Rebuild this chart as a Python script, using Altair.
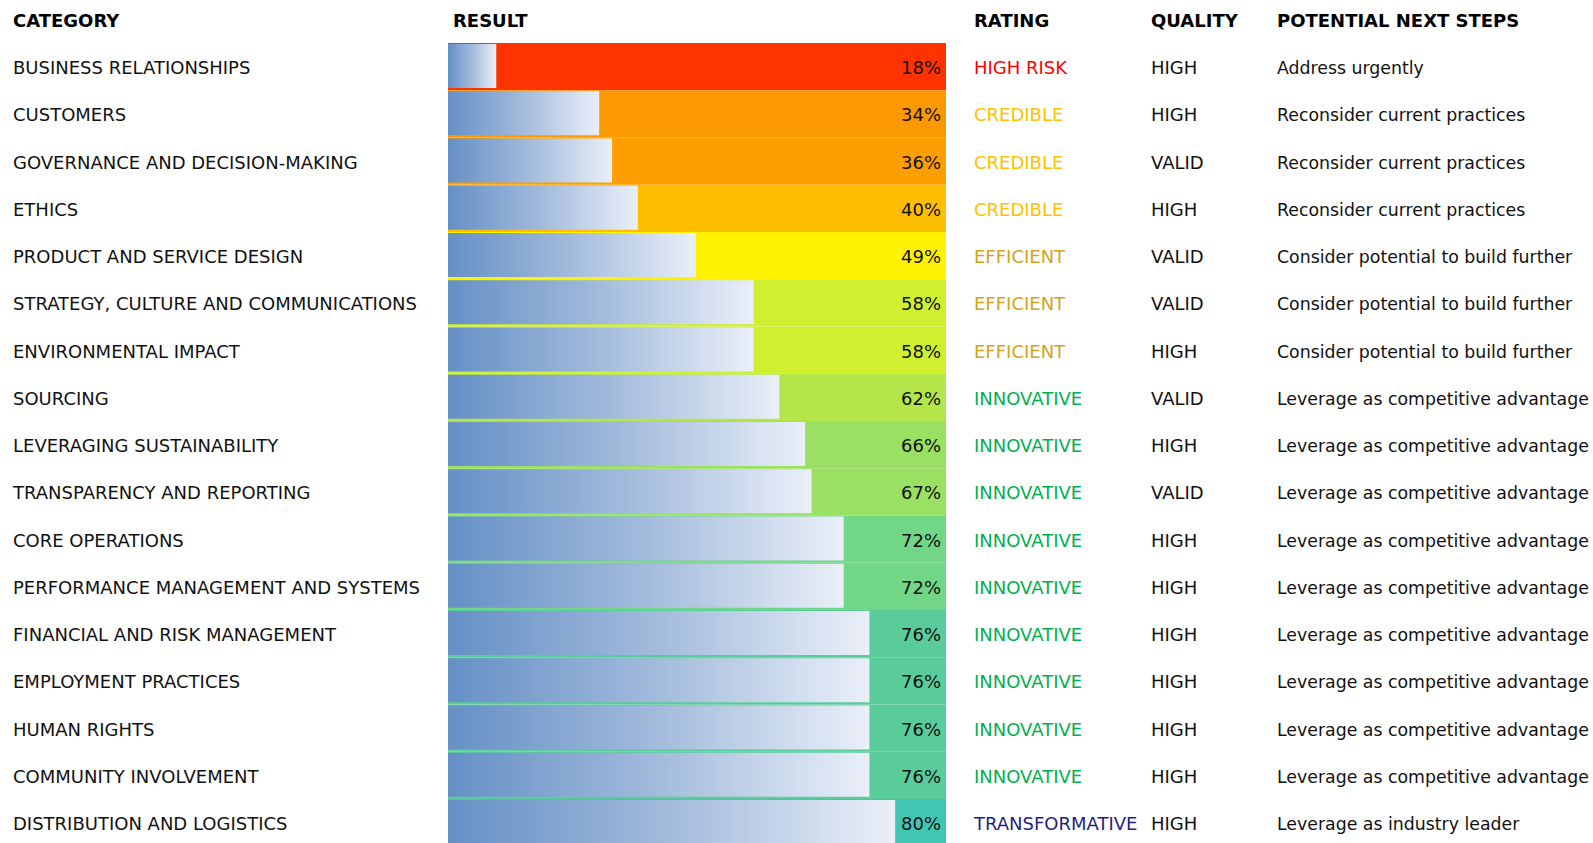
import altair as alt
import pandas as pd

categories = [
    "BUSINESS RELATIONSHIPS", "CUSTOMERS", "GOVERNANCE AND DECISION-MAKING", "ETHICS",
    "PRODUCT AND SERVICE DESIGN", "STRATEGY, CULTURE AND COMMUNICATIONS", "ENVIRONMENTAL IMPACT",
    "SOURCING", "LEVERAGING SUSTAINABILITY", "TRANSPARENCY AND REPORTING", "CORE OPERATIONS",
    "PERFORMANCE MANAGEMENT AND SYSTEMS", "FINANCIAL AND RISK MANAGEMENT", "EMPLOYMENT PRACTICES",
    "HUMAN RIGHTS", "COMMUNITY INVOLVEMENT", "DISTRIBUTION AND LOGISTICS",
]
results = [18, 34, 36, 40, 49, 58, 58, 62, 66, 67, 72, 72, 76, 76, 76, 76, 80]
ratings = ["HIGH RISK", "CREDIBLE", "CREDIBLE", "CREDIBLE", "EFFICIENT", "EFFICIENT", "EFFICIENT"] + \
          ["INNOVATIVE"] * 9 + ["TRANSFORMATIVE"]
quality = ["HIGH", "HIGH", "VALID", "HIGH", "VALID", "VALID", "HIGH", "VALID", "HIGH", "VALID",
           "HIGH", "HIGH", "HIGH", "HIGH", "HIGH", "HIGH", "HIGH"]
next_steps = ["Address urgently"] + ["Reconsider current practices"] * 3 + \
             ["Consider potential to build further"] * 3 + \
             ["Leverage as competitive advantage"] * 9 + ["Leverage as industry leader"]
headers = ["CATEGORY", "RESULT", "RATING", "QUALITY", "POTENTIAL NEXT STEPS"]

# styles
row_colors = ["#ff3300", "#fd9900", "#fe9e00", "#ffbe00", "#fff200", "#d0ef2e", "#d0ef2e",
              "#b4e64a", "#9ae062", "#9ae062", "#72d687", "#72d687", "#5acc9c", "#5acc9c",
              "#5acc9c", "#5acc9c", "#41c6b4"]
rating_names = ["HIGH RISK", "CREDIBLE", "EFFICIENT", "INNOVATIVE", "TRANSFORMATIVE"]
rating_colors = ["#ff0000", "#ffc000", "#d6a21a", "#00b050", "#1f1f80"]

df = pd.DataFrame({
    "category": categories,
    "result": results,
    "label": [f"{v}%" for v in results],
    "rating": ratings,
    "quality": quality,
    "steps": next_steps,
})

FONT = "DejaVu Sans"
FS_UP = 18
FS_LOW = 17.33
TXT = "#111111"

def yenc(center=False):
    kw = dict(sort=categories,
              scale=alt.Scale(domain=categories, range=[43, 846.25], paddingInner=0, paddingOuter=0),
              axis=None)
    if center:
        kw["bandPosition"] = 0.5
    return alt.Y("category:N", **kw)

base = alt.Chart(df)

bg = base.mark_rect().encode(
    x=alt.value(448), x2=alt.value(946), y=yenc(),
    fill=alt.Fill("category:N", scale=alt.Scale(domain=categories, range=row_colors), legend=None),
)

grad = alt.LinearGradient(
    gradient="linear",
    stops=[alt.GradientStop(color="#6590c6", offset=0),
           alt.GradientStop(color="#a3bbdc", offset=0.5),
           alt.GradientStop(color="#eaeff8", offset=1)],
    x1=0, x2=1, y1=0, y2=0,
)
bars = base.mark_bar(color=grad, size=44, yOffset=-0.6).encode(
    x=alt.X("result:Q", scale=alt.Scale(domain=[10.5, 87.9], range=[448, 946], zero=False), axis=None),
    x2=alt.datum(10.5),
    y=yenc(),
)

def col_text(field, x, size, align="left", color=None):
    kw = dict(font=FONT, fontSize=size, align=align, baseline="middle", dy=2.5)
    if color is not None:
        kw["color"] = color
    return base.mark_text(**kw).encode(x=alt.value(x), y=yenc(True), text=f"{field}:N")

cat_t = col_text("category", 13, FS_UP, color=TXT)
pct_t = col_text("label", 941, FS_UP, align="right", color=TXT)
rat_t = base.mark_text(font=FONT, fontSize=FS_UP, align="left", baseline="middle", dy=2.5).encode(
    x=alt.value(974),
    y=yenc(True),
    text="rating:N",
    color=alt.Color("rating:N", scale=alt.Scale(domain=rating_names, range=rating_colors), legend=None),
)
qual_t = col_text("quality", 1151, FS_UP, color=TXT)
step_t = col_text("steps", 1277, FS_LOW, color=TXT)

header_x = [13, 453, 974, 1151, 1277]
hdr_layers = []
for h, hx in zip(headers, header_x):
    hdr_layers.append(
        alt.Chart(pd.DataFrame({"h": [h]})).mark_text(
            font=FONT, fontSize=18, fontWeight="bold", align="left", baseline="alphabetic", color="#000000"
        ).encode(x=alt.value(hx), y=alt.value(27), text="h:N")
    )

chart = alt.layer(bg, bars, cat_t, pct_t, rat_t, qual_t, step_t, *hdr_layers).properties(
    width=1593, height=843, padding=0, autosize="none", background="white",
).configure_view(stroke=None).resolve_scale(color="independent", fill="independent")

chart.save("out.html", embed_options={"renderer": "svg", "actions": False})
